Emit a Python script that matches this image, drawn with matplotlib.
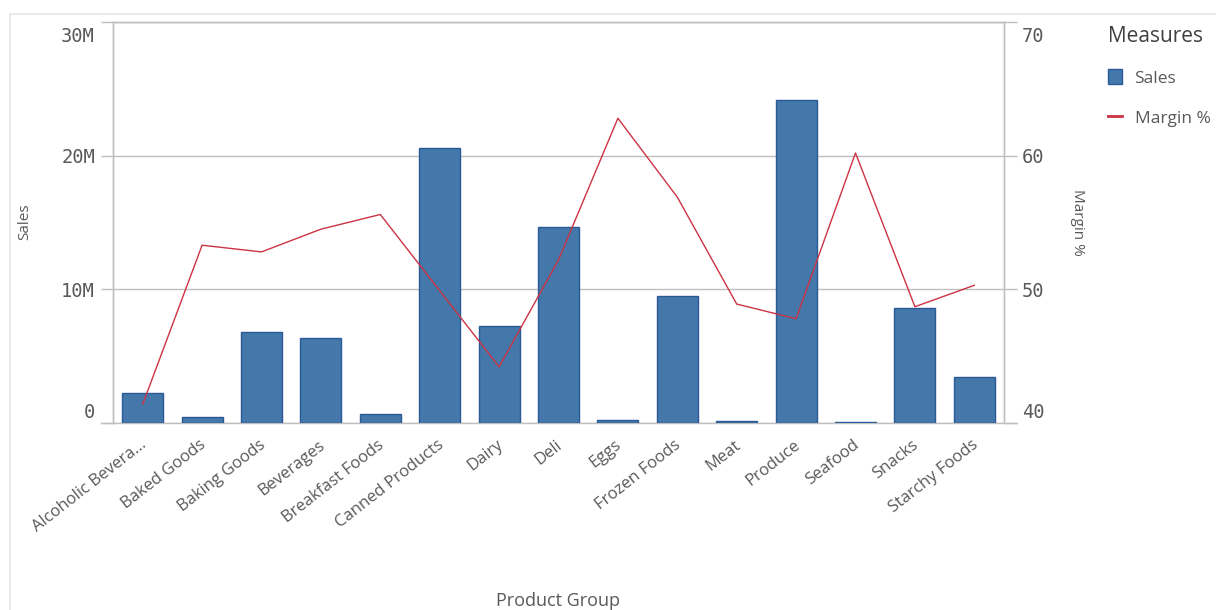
import numpy as np
import matplotlib
matplotlib.use('Agg')
import matplotlib.pyplot as plt
import matplotlib.ticker as ticker
import matplotlib.transforms as mtransforms
from matplotlib.patches import Rectangle
from matplotlib.lines import Line2D

# data
groups = ['Alcoholic Bevera...', 'Baked Goods', 'Baking Goods', 'Beverages',
          'Breakfast Foods', 'Canned Products', 'Dairy', 'Deli', 'Eggs',
          'Frozen Foods', 'Meat', 'Produce', 'Seafood', 'Snacks',
          'Starchy Foods']
sales = [2.27e6, 0.47e6, 6.8e6, 6.35e6, 0.67e6, 20.6e6, 7.22e6, 14.7e6,
         0.22e6, 9.52e6, 0.12e6, 24.2e6, 0.04e6, 8.63e6, 3.43e6]
margin = [41.4, 53.3, 52.8, 54.5, 55.6, 49.9, 44.2, 52.2, 62.8, 56.9,
          48.9, 47.8, 60.2, 48.7, 50.3]
sales_ticks = [0, 10e6, 20e6, 30e6]
sales_labels = ['0', '10M', '20M', '30M']
margin_ticks = [40, 50, 60, 70]

W, H = 1216, 610
blue = '#4477aa'
blue_edge = '#2a5a96'
red = '#cc3344'
grey_txt = '#595959'
grid_c = '#bfbfbf'
sans = ['Open Sans', 'DejaVu Sans']
mono = ['DejaVu Sans Mono']

fig = plt.figure(figsize=(W / 100, H / 100), dpi=100)
fig.patches.append(Rectangle((10 / W, -0.1), 1.2, 1 - 14 / H + 0.1,
                             transform=fig.transFigure, fill=False,
                             ec='#e8e8e8', lw=1.5))
ax = fig.add_axes([113 / W, 1 - 423 / H, (1004 - 113) / W, (423 - 22) / H])
ax2 = ax.twinx()

x = np.arange(len(groups))
ax.bar(x, sales, width=0.69, color=blue, ec=blue_edge, lw=1.0, zorder=3)
ax2.plot(x, margin, color=red, lw=1.0, zorder=4)

ax.set_xlim(-0.5, len(groups) - 0.5)
ax.set_ylim(0, 30e6)
ax2.set_ylim(40, 70)
ax.yaxis.set_major_locator(ticker.FixedLocator(sales_ticks))
ax.set_yticklabels(sales_labels)
ax2.yaxis.set_major_locator(ticker.FixedLocator(margin_ticks))
ax2.set_yticklabels([str(t) for t in margin_ticks])

ax.grid(axis='y', color=grid_c, lw=1.0, zorder=0)
ax.set_axisbelow(True)
for a in (ax, ax2):
    for s in a.spines.values():
        s.set_color(grid_c)
        s.set_linewidth(1.0)
    a.spines['bottom'].set_visible(False)
    a.tick_params(axis='y', length=9, width=1.0, color=grid_c, pad=4,
                  labelsize=13.5, labelcolor=grey_txt)
    for lab in a.get_yticklabels():
        lab.set_family(mono)
ax.plot([-0.5 - 12 / 59.4, len(groups) - 0.5 + 13 / 59.4], [0, 0],
        color=grid_c, lw=1.0, clip_on=False, zorder=2)

ax.set_xticks(x)
ax.set_xticklabels(groups, rotation=38, ha='right', va='top',
                   rotation_mode='anchor', fontsize=12, color=grey_txt,
                   family=sans)
ax.tick_params(axis='x', length=0, pad=10)
left = mtransforms.ScaledTranslation(-0.03, 0, fig.dpi_scale_trans)
for t in ax.xaxis.get_major_ticks():
    t.label1.set_transform(t.label1.get_transform() + left)

# end labels sit inside the plot range, as in the reference
down = mtransforms.ScaledTranslation(0, -0.05, fig.dpi_scale_trans)
up = mtransforms.ScaledTranslation(0, 0.01, fig.dpi_scale_trans)
for a in (ax, ax2):
    ticks = a.yaxis.get_major_ticks()
    for lab in (ticks[0].label1, ticks[0].label2):
        lab.set_va('bottom')
        lab.set_transform(lab.get_transform() + up)
    for lab in (ticks[-1].label1, ticks[-1].label2):
        lab.set_va('top')
        lab.set_transform(lab.get_transform() + down)

fig.text(25 / W, 1 - 222 / H, 'Sales', rotation=90, ha='center',
         va='center', fontsize=11, color=grey_txt, family=sans)
fig.text(1078 / W, 1 - 222 / H, 'Margin %', rotation=-90, ha='center',
         va='center', fontsize=11, color=grey_txt, family=sans)
fig.text(558 / W, 1 - 601 / H, 'Product Group', ha='center', va='center',
         fontsize=13, color=grey_txt, family=sans)

handles = [Rectangle((0, 0), 1, 1, fc=blue, ec=blue_edge, lw=1.0),
           Line2D([], [], color=red, lw=2)]
leg = fig.legend(handles, ['Sales', 'Margin %'], loc='upper left',
                 bbox_to_anchor=(1092 / W, 1 - 10 / H), frameon=False,
                 title='Measures', alignment='left', handlelength=0.85,
                 handleheight=0.95, handletextpad=0.7, labelspacing=1.3,
                 borderaxespad=0.6, borderpad=0.3,
                 prop={'family': sans, 'size': 12.5})
leg.get_title().set_fontsize(15)
leg.get_title().set_family(sans)
leg.get_title().set_color('#404040')
for t in leg.get_texts():
    t.set_color(grey_txt)

fig.savefig('out.png', dpi=100)
